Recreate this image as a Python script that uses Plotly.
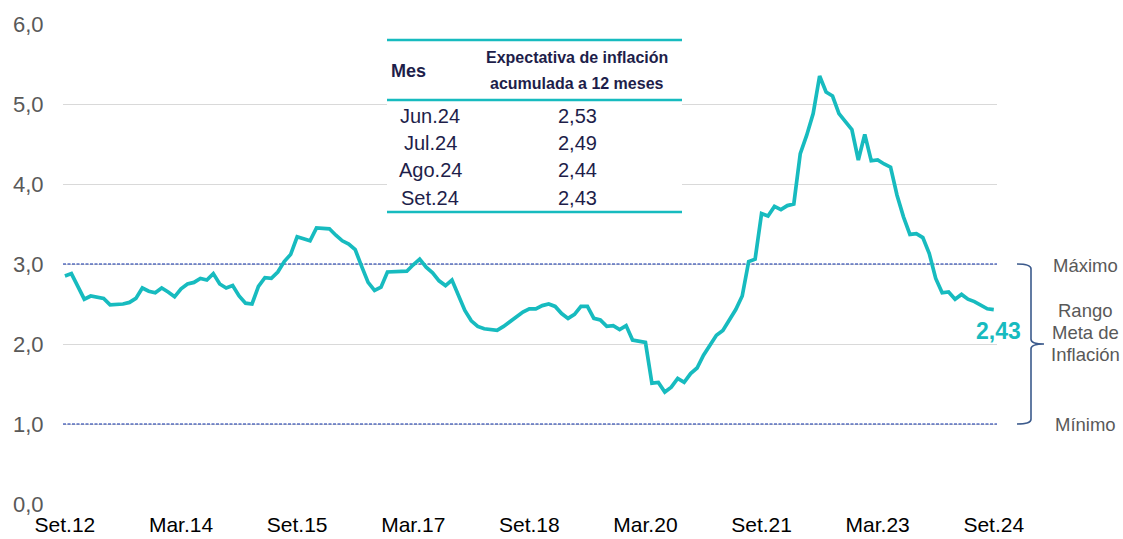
import plotly.graph_objects as go

# ---------------- data ----------------
# Monthly series, Sep 2012 .. Sep 2024 (145 months)
expectativa = [
    2.85, 2.88, 2.72, 2.56, 2.60, 2.58, 2.57, 2.49, 2.49, 2.50, 2.52, 2.57,
    2.70, 2.66, 2.64, 2.70, 2.65, 2.59, 2.69, 2.75, 2.77, 2.82, 2.80, 2.88,
    2.75, 2.70, 2.73, 2.60, 2.51, 2.50, 2.72, 2.83, 2.82, 2.90, 3.03, 3.12,
    3.34, 3.32, 3.29, 3.45, 3.45, 3.44, 3.36, 3.29, 3.25, 3.18, 2.97, 2.77,
    2.67, 2.71, 2.90, 2.90, 2.90, 2.91, 2.99, 3.06, 2.96, 2.89, 2.79, 2.73,
    2.80, 2.60, 2.42, 2.29, 2.22, 2.19, 2.18, 2.17, 2.22, 2.28, 2.34, 2.40,
    2.44, 2.44, 2.48, 2.50, 2.47, 2.38, 2.32, 2.37, 2.47, 2.47, 2.32, 2.30,
    2.22, 2.23, 2.18, 2.23, 2.05, 2.03, 2.02, 1.51, 1.52, 1.40, 1.46, 1.57,
    1.52, 1.63, 1.70, 1.86, 1.99, 2.11, 2.17, 2.29, 2.43, 2.60, 3.03, 3.06,
    3.63, 3.60, 3.72, 3.68, 3.73, 3.75, 4.38, 4.61, 4.88, 5.35, 5.15, 5.10,
    4.88, 4.78, 4.68, 4.30, 4.62, 4.29, 4.30, 4.25, 4.21, 3.86, 3.59, 3.37,
    3.38, 3.33, 3.13, 2.82, 2.64, 2.65, 2.56, 2.62, 2.56, 2.53, 2.49, 2.44,
    2.43,
]
meses_idx = list(range(len(expectativa)))

tick_pos = [0, 18, 36, 54, 72, 90, 108, 126, 144]
tick_labels = ["Set.12", "Mar.14", "Set.15", "Mar.17", "Set.18",
               "Mar.20", "Set.21", "Mar.23", "Set.24"]

meta_max = 3.0
meta_min = 1.0

tabla_meses = ["Jun.24", "Jul.24", "Ago.24", "Set.24"]
tabla_valores = ["2,53", "2,49", "2,44", "2,43"]
ultimo_label = "2,43"

# ---------------- styling ----------------
W, H = 1123, 539
ML, MR, MT, MB = 63, 126, 24, 35
PW, PH = W - ML - MR, H - MT - MB
TEAL = "#17BBBF"
NAVY = "#1E1E4A"
GRAY = "#595959"
FONT = "Liberation Sans, Arial, sans-serif"


def px(x):
    """window pixel x -> paper"""
    return (x - ML) / PW


def py(y):
    """window pixel y -> paper"""
    return (H - MB - y) / PH


fig = go.Figure()

# meta range lines
for v in (meta_max, meta_min):
    fig.add_trace(go.Scatter(
        x=[-0.3, 144.5], y=[v, v], mode="lines",
        line=dict(color="#0B2CA8", width=1.1, dash="3px,1.5px"),
        hoverinfo="skip", showlegend=False))

fig.add_trace(go.Scatter(
    x=meses_idx, y=expectativa, mode="lines",
    line=dict(color=TEAL, width=3.7), showlegend=False))

shapes = []
annotations = []

# table background and rules
shapes.append(dict(type="rect", xref="paper", yref="paper",
                   x0=px(387), x1=px(682), y0=py(213), y1=py(39),
                   fillcolor="white", line=dict(width=0), layer="above"))
for yy in (40, 100, 212):
    shapes.append(dict(type="line", xref="paper", yref="paper",
                       x0=px(387), x1=px(682), y0=py(yy), y1=py(yy),
                       line=dict(color=TEAL, width=2.5), layer="above"))

annotations.append(dict(xref="paper", yref="paper", x=px(389), y=py(71),
                        text="<b>Mes</b>", showarrow=False, xanchor="left",
                        yanchor="middle", font=dict(size=18, color=NAVY, family=FONT)))
for txt, yy in (("<b>Expectativa de inflación</b>", 58),
                ("<b>acumulada a 12 meses</b>", 83)):
    annotations.append(dict(xref="paper", yref="paper", x=px(577), y=py(yy),
                            text=txt, showarrow=False, xanchor="center", yanchor="middle",
                            font=dict(size=16, color=NAVY, family=FONT)))
row_y = [116, 143, 170, 198]
for m, v, yy in zip(tabla_meses, tabla_valores, row_y):
    annotations.append(dict(xref="paper", yref="paper", x=px(430), y=py(yy),
                            text=m, showarrow=False, xanchor="center", yanchor="middle",
                            font=dict(size=20, color=NAVY, family=FONT)))
    annotations.append(dict(xref="paper", yref="paper", x=px(577), y=py(yy),
                            text=v, showarrow=False, xanchor="center", yanchor="middle",
                            font=dict(size=20, color=NAVY, family=FONT)))

# last value label
annotations.append(dict(x=meses_idx[-1], y=expectativa[-1], text="<b>" + ultimo_label + "</b>",
                        showarrow=False, xanchor="center", yanchor="middle",
                        xshift=5, yshift=-21,
                        font=dict(size=23, color=TEAL, family=FONT)))

# brace for target range
bx0, bx1, btip = px(1017), px(1031), px(1044)
ym = (meta_max + meta_min) / 2
d = 0.06
brace = (f"M {bx0},{meta_max} Q {bx1},{meta_max} {bx1},{meta_max - d} "
         f"L {bx1},{ym + d} Q {bx1},{ym} {btip},{ym} "
         f"Q {bx1},{ym} {bx1},{ym - d} "
         f"L {bx1},{meta_min + d} Q {bx1},{meta_min} {bx0},{meta_min}")
shapes.append(dict(type="path", xref="paper", yref="y", path=brace,
                   line=dict(color="#3B5A8C", width=1.6)))

for txt, yy in (("Máximo", 265), ("Rango", 310), ("Meta de", 332),
                ("Inflación", 354), ("Mínimo", 424)):
    annotations.append(dict(xref="paper", yref="paper", x=px(1085), y=py(yy),
                            text=txt, showarrow=False, xanchor="center", yanchor="middle",
                            font=dict(size=18.5, color=GRAY, family=FONT)))

fig.update_layout(
    width=W, height=H,
    margin=dict(l=ML, r=MR, t=MT, b=MB, autoexpand=False),
    paper_bgcolor="white", plot_bgcolor="white",
    separators=",.",
    showlegend=False,
    shapes=shapes, annotations=annotations,
    xaxis=dict(range=[-0.3, 144.5], tickmode="array", tickvals=tick_pos,
               ticktext=tick_labels, showgrid=False, zeroline=False, showline=False,
               ticks="outside", ticklen=2, tickcolor="white",
               tickfont=dict(size=21, color="black", family=FONT)),
    yaxis=dict(range=[0, 6], dtick=1, tickformat=".1f", showgrid=True,
               gridcolor="#D9D9D9", gridwidth=1, zeroline=False, showline=False,
               ticks="outside", ticklen=14, tickcolor="white",
               tickfont=dict(size=22, color=GRAY, family=FONT)),
)

# remove the browser's default 8px body margin so the figure fills the window
fig.write_html("out.html",
               config={"displayModeBar": False},
               post_script="document.body.style.margin='0';document.body.style.overflow='hidden';")
